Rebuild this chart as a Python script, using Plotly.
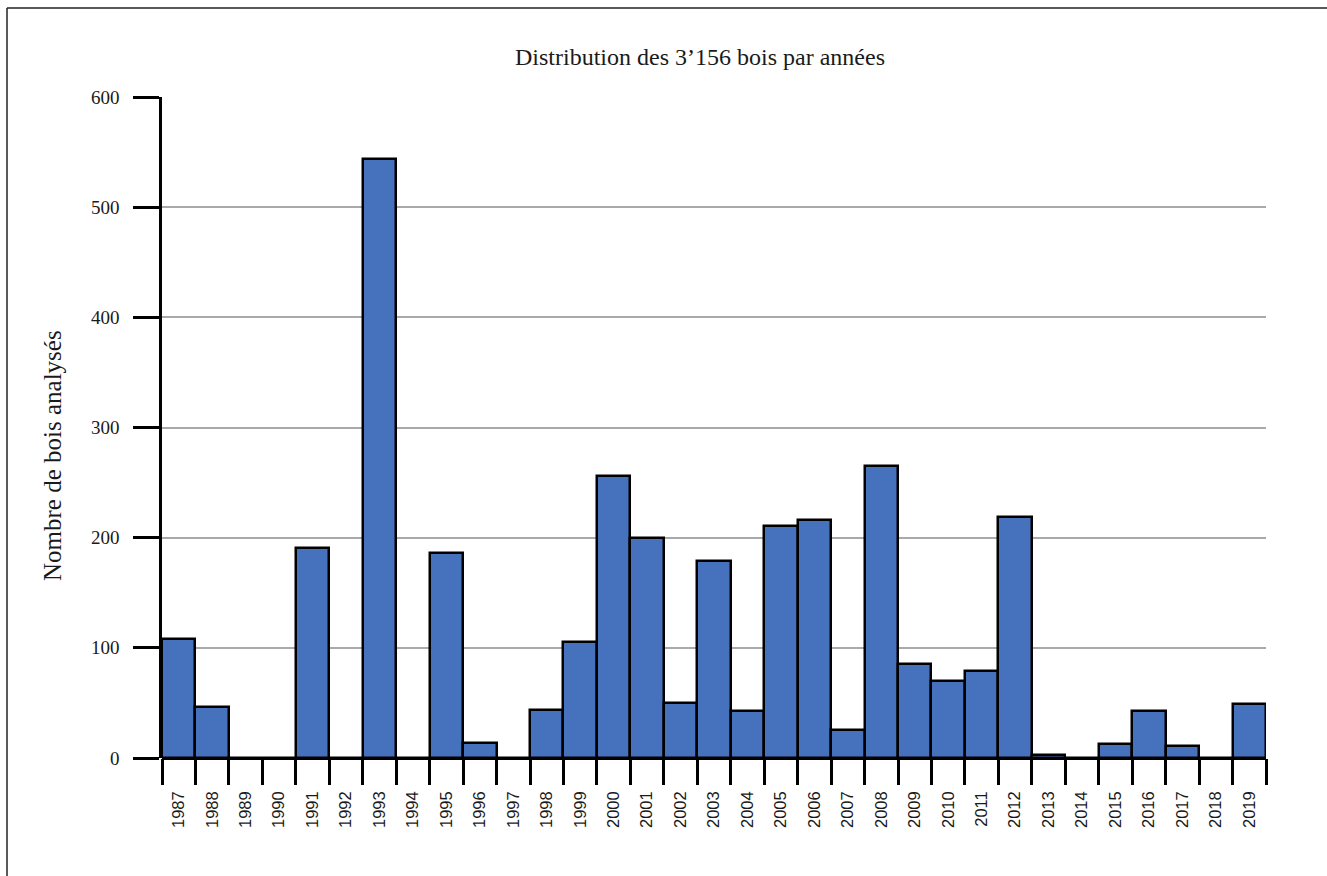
import plotly.graph_objects as go

# Nombre de bois analysés par année
annees = [str(a) for a in range(1987, 2020)]
nombre_bois = [108, 46, 0, 0, 191, 0, 544, 0, 186, 14, 0, 44, 105, 256, 200,
               50, 179, 43, 211, 216, 25, 265, 85, 70, 79, 219, 3, 0, 13, 43,
               11, 0, 49]
y_ticks = [0, 100, 200, 300, 400, 500, 600]

titre = "Distribution des 3\u2019156 bois par années"
titre_y = "Nombre de bois analysés"

SERIF = "Liberation Serif, Times New Roman, serif"
SANS = "Liberation Sans, Arial, sans-serif"

W, H = 1327, 876
L, R, T, B = 162, 61, 97, 118
pw, ph = W - L - R, H - T - B


def px_x(x):
    return (x - L) / pw


def px_y(y):
    return (H - B - y) / ph


fig = go.Figure(
    go.Bar(
        x=annees,
        y=nombre_bois,
        marker=dict(color="#4671BD", line=dict(color="black", width=2.5)),
        width=1.0,
        hoverinfo="x+y",
    )
)

fig.update_layout(
    width=W,
    height=H,
    margin=dict(l=L, r=R, t=T, b=B, pad=0),
    paper_bgcolor="white",
    plot_bgcolor="white",
    bargap=0,
    showlegend=False,
    title=dict(
        text=titre,
        x=px_x(700),
        xref="paper",
        xanchor="center",
        y=1 - 57 / H,
        yref="container",
        yanchor="middle",
        font=dict(family=SERIF, size=24, color="#1a1a1a"),
    ),
    xaxis=dict(
        type="category",
        range=[-0.5, len(annees) - 0.5],
        tickson="boundaries",
        ticks="outside",
        ticklen=26,
        tickwidth=2.5,
        tickcolor="black",
        tickangle=-90,
        ticklabelstandoff=29,
        tickfont=dict(family=SANS, size=16.5, color="#1a1a1a"),
        showgrid=False,
        showline=False,
        zeroline=False,
        fixedrange=True,
    ),
    yaxis=dict(
        range=[0, 600],
        tickvals=y_ticks,
        ticks="outside",
        ticklen=26,
        tickwidth=2.5,
        tickcolor="black",
        ticklabelstandoff=10,
        tickfont=dict(family=SERIF, size=19, color="#1a1a1a"),
        showgrid=True,
        gridcolor="#a9a9a9",
        gridwidth=2,
        showline=True,
        linecolor="black",
        linewidth=2.5,
        zeroline=True,
        zerolinecolor="black",
        zerolinewidth=2.5,
        fixedrange=True,
    ),
    annotations=[
        dict(text=titre_y, xref="paper", yref="paper",
             x=px_x(52), y=px_y(456), xanchor="center", yanchor="middle",
             textangle=-90, showarrow=False,
             font=dict(family=SERIF, size=25, color="#1a1a1a")),
    ],
    shapes=[
        # cadre de la figure (haut et gauche)
        dict(type="line", xref="paper", yref="paper",
             x0=px_x(7), x1=px_x(W + 5), y0=px_y(8), y1=px_y(8),
             line=dict(color="#222", width=1.5)),
        dict(type="line", xref="paper", yref="paper",
             x0=px_x(7), x1=px_x(7), y0=px_y(8), y1=px_y(H + 5),
             line=dict(color="#222", width=1.5)),
    ],
)

fig.write_html("out.html")
